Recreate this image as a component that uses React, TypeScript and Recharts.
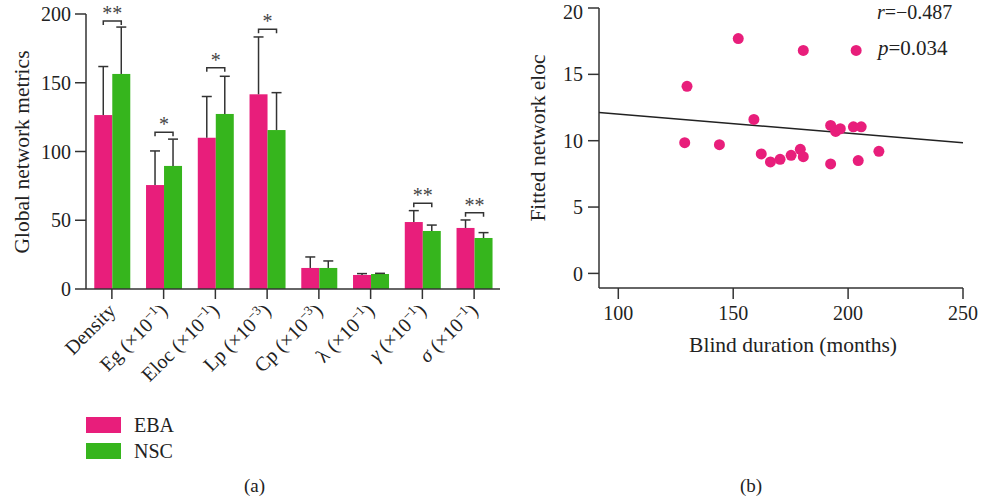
import React from 'react';
import {
    BarChart, Bar, XAxis, YAxis, ScatterChart, Scatter,
} from 'recharts';

const PINK = '#E81E7B';
const GREEN = '#36B51D';
const AXIS = '#333';
const FONT = '"Liberation Serif", "DejaVu Serif", serif';

// (a) group metrics
const metricNames = ['Density', 'Eg', 'Eloc', 'Lp', 'Cp', 'λ', 'γ', 'σ'];
const metricExponents = ['', '−1', '−1', '−3', '−3', '−1', '−1', '−1'];
const ebaMeans = [126.5, 75.6, 110, 141.6, 15.3, 10.2, 48.7, 44.4];
const ebaSd = [35.3, 24.8, 30, 41.7, 8, 1, 8.3, 5.8];
const nscMeans = [156.4, 89.5, 127.3, 115.6, 15.3, 10.9, 42.2, 37.1];
const nscSd = [34.1, 19.5, 27.4, 27.2, 5.1, 0.5, 4.3, 3.9];
const sigLevels = [195, 114, 161, 189, null, null, 62.3, 55.5];
const sigMarks = ['**', '*', '*', '*', '', '', '**', '**'];

// (b) blind duration vs eloc
const durations = [152.2, 180.5, 203.5, 129.9, 159, 128.9, 144, 162.2, 166.2, 170.4, 175.2,
    179.2, 180.5, 192.4, 194.6, 196.6, 192.4, 202.3, 205.7, 204.4, 213.4];
const elocValues = [17.7, 16.8, 16.8, 14.1, 11.6, 9.85, 9.7, 9, 8.4, 8.6, 8.9,
    9.35, 8.8, 11.15, 10.7, 10.9, 8.25, 11.05, 11.05, 8.5, 9.2];
const fitX = [91.6, 250];
const fitY = [12.12, 9.85];

const barData = metricNames.map((name, i) => ({
    name,
    exp: metricExponents[i],
    eba: ebaMeans[i],
    ebaSd: ebaSd[i],
    nsc: nscMeans[i],
    nscSd: nscSd[i],
    sig: sigLevels[i],
    mark: sigMarks[i],
}));

const scatterData = durations.map((x, i) => ({ x, y: elocValues[i] }));
const fitLine = fitX.map((x, i) => ({ x, y: fitY[i] }));

const makeBarShape = (valueKey: string, sdKey: string, fill: string, withSig: boolean) => (props: any) => {
    const { x, y, width, height, payload } = props;
    const v = payload[valueKey];
    const k = height / v; // px per unit from the bar itself
    const cx = x + width / 2;
    const top = y - payload[sdKey] * k;
    const base = y + height;
    let sig = null;
    if (withSig && payload.sig != null) {
        const sy = base - payload.sig * k;
        const x1 = x - width / 2;
        const x2 = x + width / 2;
        sig = (
            <g>
                <path d={`M${x1},${sy + 4}V${sy}H${x2}V${sy + 4}`} fill="none" stroke={AXIS} strokeWidth={1.5} />
                <text x={x} y={sy - 1} textAnchor="middle" fontSize={20} fill="#444" fontFamily={FONT}>{payload.mark}</text>
            </g>
        );
    }
    return (
        <g>
            <rect x={x} y={y} width={width} height={height} fill={fill} />
            <line x1={cx} y1={y} x2={cx} y2={top} stroke={AXIS} strokeWidth={1.5} />
            <line x1={cx - 5} y1={top} x2={cx + 5} y2={top} stroke={AXIS} strokeWidth={1.5} />
            {sig}
        </g>
    );
};

const MetricTick = (props: any) => {
    const { x, y, payload, index } = props;
    const exp = metricExponents[index];
    const italic = payload.value === 'γ' || payload.value === 'σ';
    return (
        <g transform={`translate(${x + 5},${y + 11})`}>
            <text transform="rotate(-45)" textAnchor="end" fontSize={20} fill="#222" fontFamily={FONT}>
                <tspan fontStyle={italic ? 'italic' : 'normal'}>{payload.value}</tspan>
                {exp ? <tspan> (×10</tspan> : null}
                {exp ? <tspan dy={-8} fontSize={13}>{exp}</tspan> : null}
                {exp ? <tspan dy={8}>)</tspan> : null}
            </text>
        </g>
    );
};

const tickStyle = { fontSize: 20, fill: '#222', fontFamily: FONT };
const axisLine = { stroke: AXIS, strokeWidth: 1.5 };

const App = () => {
    return (
        <div style={{ position: 'absolute', left: 0, top: 0, width: 986, height: 502, background: '#fff', fontFamily: FONT, color: '#222' }}>
            <div style={{ position: 'absolute', left: 0, top: 0 }}>
                <BarChart width={520} height={420} data={barData} barGap={0} barCategoryGap="16%"
                    margin={{ top: 14, right: 20, left: 0, bottom: 0 }}>
                    <YAxis width={86} domain={[0, 200]} ticks={[0, 50, 100, 150, 200]} tickSize={11} tickMargin={4}
                        axisLine={axisLine} tickLine={axisLine} tick={tickStyle} />
                    <XAxis dataKey="name" height={131} tickSize={10} interval={0}
                        axisLine={axisLine} tickLine={axisLine} tick={<MetricTick />} />
                    <Bar dataKey="eba" isAnimationActive={false} shape={makeBarShape('eba', 'ebaSd', PINK, false)} />
                    <Bar dataKey="nsc" isAnimationActive={false} shape={makeBarShape('nsc', 'nscSd', GREEN, true)} />
                </BarChart>
            </div>
            <div style={{ position: 'absolute', left: 22, top: 152, transform: 'translate(-50%,-50%) rotate(-90deg)', fontSize: 21.5, whiteSpace: 'nowrap' }}>
                Global network metrics
            </div>
            <div style={{ position: 'absolute', left: 86, top: 412 }}>
                {[['EBA', PINK], ['NSC', GREEN]].map(([label, color]) => (
                    <div key={label} style={{ display: 'flex', alignItems: 'center', height: 26 }}>
                        <div style={{ width: 35, height: 16, background: color }} />
                        <span style={{ marginLeft: 13, fontSize: 20 }}>{label}</span>
                    </div>
                ))}
            </div>
            <div style={{ position: 'absolute', left: 244, top: 475, fontSize: 19 }}>(a)</div>

            <div style={{ position: 'absolute', left: 520, top: 0 }}>
                <ScatterChart width={466} height={360} margin={{ top: 8, right: 23, left: 0, bottom: 0 }}>
                    <XAxis type="number" dataKey="x" domain={[91.6, 250]} ticks={[100, 150, 200, 250]} allowDataOverflow
                        height={72} tickSize={11} tickMargin={7} axisLine={axisLine} tickLine={axisLine} tick={tickStyle} />
                    <YAxis type="number" dataKey="y" domain={[-1.1, 20]} ticks={[0, 5, 10, 15, 20]} allowDataOverflow
                        width={79} tickSize={11} tickMargin={5} axisLine={axisLine} tickLine={axisLine} tick={tickStyle} />
                    <Scatter data={fitLine} isAnimationActive={false} line={{ stroke: '#222', strokeWidth: 1.5 }} shape={() => null} />
                    <Scatter data={scatterData} isAnimationActive={false}
                        shape={(p: any) => <circle cx={p.cx} cy={p.cy} r={5.5} fill={PINK} />} />
                </ScatterChart>
            </div>
            <div style={{ position: 'absolute', left: 538, top: 138, transform: 'translate(-50%,-50%) rotate(-90deg)', fontSize: 21.5, whiteSpace: 'nowrap' }}>
                Fitted network eloc
            </div>
            <div style={{ position: 'absolute', left: 793, top: 345, transform: 'translate(-50%,-50%)', fontSize: 21.5, whiteSpace: 'nowrap' }}>
                Blind duration (months)
            </div>
            <div style={{ position: 'absolute', left: 877, top: 1, fontSize: 20, lineHeight: '22px', whiteSpace: 'nowrap' }}>
                <i>r</i>=−0.487
            </div>
            <div style={{ position: 'absolute', left: 878, top: 38, fontSize: 21, lineHeight: '21px', whiteSpace: 'nowrap' }}>
                <i>p</i>=0.034
            </div>
            <div style={{ position: 'absolute', left: 740, top: 475, fontSize: 19 }}>(b)</div>
        </div>
    );
};

export default App;
